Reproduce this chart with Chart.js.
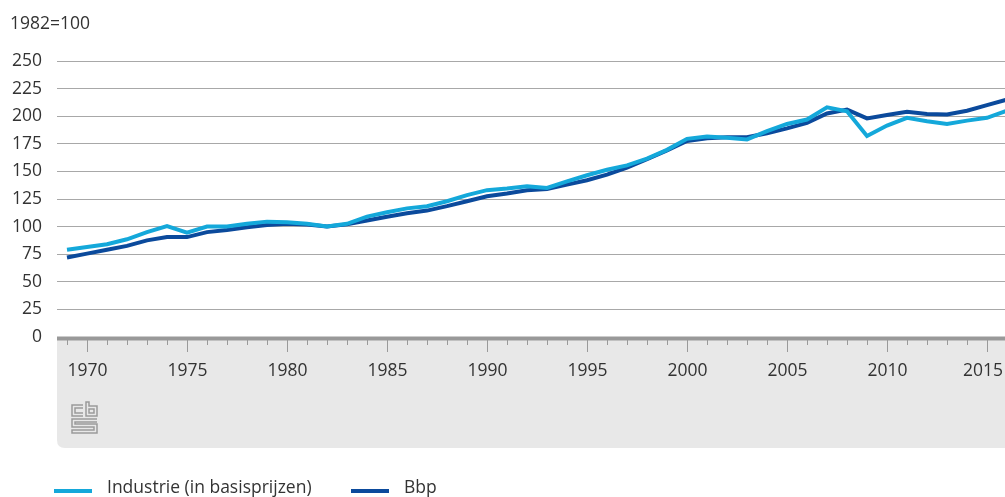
<!DOCTYPE html>
<html>
<head>
<meta charset="utf-8">
<script src="https://cdn.jsdelivr.net/npm/chart.js@4"></script>
<style>
  html, body { margin: 0; padding: 0; background: #fff; overflow: hidden; }
  body { width: 1005px; height: 497px; font-family: "Open Sans", sans-serif; color: #333; }
  #clip { position: relative; width: 1005px; height: 497px; overflow: hidden; }
  #chart { position: absolute; left: 0; top: 0; }
  #unit { position: absolute; left: 10px; top: 10px; font-size: 17.5px; }
  #legend { position: absolute; left: 54px; top: 474px; font-size: 17.5px; white-space: nowrap; }
  #legend span.item { position: absolute; top: 0; }
  #legend span.sw { position: absolute; top: 15px; width: 38px; height: 4px; }
  #legend span.tx { position: absolute; top: 0; }
</style>
</head>
<body>
<div id="clip">
  <canvas id="chart" width="1005" height="497"></canvas>
  <div id="unit">1982=100</div>
  <div id="legend"></div>
</div>
<script>
// jaartallen 1969-2016
const years = [];
for (let y = 1969; y <= 2016; y++) years.push(y);

// volume-index, 1982=100
const industrie = [79, 81.5, 84, 88.5, 95, 100.5, 94.5, 100, 100, 102.5, 104.5, 104, 102.5, 100,
  102.5, 109, 113, 116.5, 118.5, 123, 128.5, 133, 134.5, 136.5, 135, 141, 146.5, 151.5, 155.5, 161.5,
  169.5, 179.5, 181.5, 180.5, 179, 186.5, 193, 197, 208, 204.5, 182, 191.5, 198.5, 195.5, 193, 196, 198.5, 205];
const bbp = [72, 75.5, 79, 82.5, 87.5, 90.5, 90.5, 95, 97, 99.5, 101.5, 102.5, 102, 100,
  102, 105.5, 109, 112, 114.5, 118.5, 123, 127.5, 130, 133, 134, 138, 142, 147, 153.5, 161,
  169, 177.5, 180, 181, 181, 184.5, 189, 194, 202.5, 206, 198, 201, 204, 202, 201.5, 205, 210, 215];

const yTicks = [0, 25, 50, 75, 100, 125, 150, 175, 200, 225, 250];

const lightBlue = '#14a8da';
const darkBlue = '#0b4a9c';
const fontSize = 17.5;

// x-as loopt half jaar voor 1969 tot net voorbij de rand (2016 valt buiten beeld)
const xMin = 1968.5;
const xMax = 2015.9;

// grijze band onder de x-as, tickjes, jaartallen en logo
const bandPlugin = {
  id: 'band',
  beforeDraw(chart) {
    const ctx = chart.ctx;
    const area = chart.chartArea;
    const x0 = area.left, y0 = area.bottom, x1 = chart.width, y1 = 448, r = 8;
    ctx.save();
    ctx.fillStyle = '#e8e8e8';
    ctx.beginPath();
    ctx.moveTo(x0, y0);
    ctx.lineTo(x1, y0);
    ctx.lineTo(x1, y1);
    ctx.lineTo(x0 + r, y1);
    ctx.quadraticCurveTo(x0, y1, x0, y1 - r);
    ctx.closePath();
    ctx.fill();

    // cbs logo
    ctx.strokeStyle = '#9a9a9a';
    ctx.lineWidth = 1.5;
    const L = 72, T = 402;
    ctx.beginPath();
    ctx.moveTo(L + 11, T + 3); ctx.lineTo(L, T + 3); ctx.lineTo(L, T + 14); ctx.lineTo(L + 11, T + 14);
    ctx.moveTo(L + 11, T + 6); ctx.lineTo(L + 3, T + 6); ctx.lineTo(L + 3, T + 11); ctx.lineTo(L + 11, T + 11);
    ctx.moveTo(L + 14, T + 14); ctx.lineTo(L + 14, T); ctx.lineTo(L + 17, T); ctx.lineTo(L + 17, T + 4);
    ctx.lineTo(L + 25, T + 4); ctx.lineTo(L + 25, T + 14); ctx.closePath();
    ctx.rect(L + 17, T + 7, 5, 4);
    ctx.moveTo(L + 25, T + 17); ctx.lineTo(L, T + 17); ctx.lineTo(L, T + 25); ctx.lineTo(L + 22, T + 25);
    ctx.lineTo(L + 22, T + 28); ctx.lineTo(L, T + 28); ctx.lineTo(L, T + 31); ctx.lineTo(L + 25, T + 31);
    ctx.lineTo(L + 25, T + 22); ctx.lineTo(L + 3, T + 22); ctx.lineTo(L + 3, T + 20); ctx.lineTo(L + 25, T + 20);
    ctx.stroke();
    ctx.restore();
  },
  afterDraw(chart) {
    const ctx = chart.ctx;
    const area = chart.chartArea;
    const xs = chart.scales.x;
    ctx.save();
    ctx.strokeStyle = '#9a9a9a';
    ctx.lineWidth = 1;
    ctx.fillStyle = '#333';
    ctx.font = fontSize + 'px "Open Sans"';
    ctx.textAlign = 'center';
    ctx.textBaseline = 'middle';
    years.forEach(yr => {
      const x = Math.round(xs.getPixelForValue(yr)) + 0.5;
      if (x > chart.width) return;
      const major = yr % 5 === 0;
      ctx.beginPath();
      ctx.moveTo(x, area.bottom + 1);
      ctx.lineTo(x, area.bottom + 2 + (major ? 13 : 6));
      ctx.stroke();
      if (major) {
        const half = ctx.measureText(String(yr)).width / 2;
        const lx = Math.min(x, chart.width - 2 - half);
        ctx.fillText(String(yr), lx, area.bottom + 34);
      }
    });
    ctx.fillStyle = '#999';
    ctx.fillRect(area.left, area.bottom - 0.5, chart.width - area.left, 4);
    ctx.restore();
  }
};

new Chart(document.getElementById('chart'), {
  type: 'line',
  data: {
    datasets: [
      { label: 'Industrie (in basisprijzen)', data: years.map((yr, i) => ({ x: yr, y: industrie[i] })),
        borderColor: lightBlue, backgroundColor: lightBlue, clip: false },
      { label: 'Bbp', data: years.map((yr, i) => ({ x: yr, y: bbp[i] })),
        borderColor: darkBlue, backgroundColor: darkBlue, clip: false }
    ]
  },
  options: {
    responsive: false,
    devicePixelRatio: 1,
    animation: false,
    layout: { autoPadding: false, padding: { top: 61, right: 0, bottom: 0, left: 0 } },
    elements: {
      line: { borderWidth: 4, tension: 0, borderJoinStyle: 'miter' },
      point: { radius: 0 }
    },
    plugins: {
      legend: { display: false },
      tooltip: { enabled: false }
    },
    scales: {
      x: {
        type: 'linear',
        min: xMin,
        max: xMax,
        grid: { display: false },
        border: { display: false },
        afterFit(scale) { scale.height = 160; },
        ticks: { display: false }
      },
      y: {
        min: 0,
        max: 250,
        afterBuildTicks(scale) { scale.ticks = yTicks.map(v => ({ value: v })); },
        afterFit(scale) { scale.width = 57; },
        grid: { color: '#a8a8a8', lineWidth: 1, drawTicks: false },
        border: { display: false },
        ticks: {
          padding: 15,
          color: '#333',
          font: { family: 'Open Sans', size: fontSize }
        }
      }
    }
  },
  plugins: [bandPlugin]
});

// legenda
const legend = document.getElementById('legend');
const legendItems = [
  { label: 'Industrie (in basisprijzen)', color: lightBlue, left: 0 },
  { label: 'Bbp', color: darkBlue, left: 297 }
];
legendItems.forEach(it => {
  const item = document.createElement('span');
  item.className = 'item';
  item.style.left = it.left + 'px';
  item.innerHTML = '<span class="sw" style="left:0;background:' + it.color + '"></span>' +
    '<span class="tx" style="left:53px">' + it.label + '</span>';
  legend.appendChild(item);
});
</script>
</body>
</html>
